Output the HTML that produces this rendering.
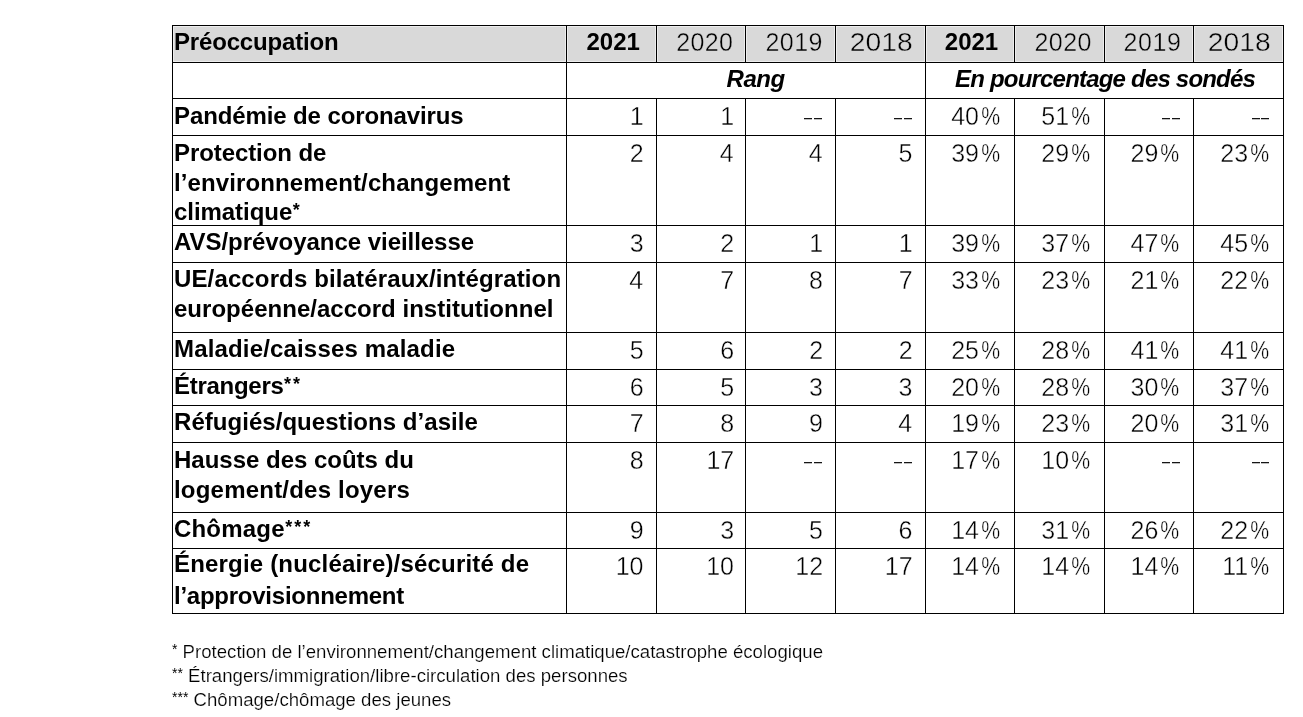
<!DOCTYPE html><html><head><meta charset="utf-8"><style>
html,body{margin:0;padding:0;background:#fff;width:1303px;height:717px;overflow:hidden;}
body{position:relative;font-family:"Liberation Sans",sans-serif;color:#000;filter:grayscale(1);}
.a{position:absolute;white-space:pre;}
.b{font-weight:bold;}
.r{color:#000;-webkit-text-stroke:0.4px #fff;}
.g .r, .r.g{-webkit-text-stroke-color:#d9d9d9;}
.f{color:#000;-webkit-text-stroke:0.2px #fff;}
.f .fs{-webkit-text-stroke:0;}
.l{position:absolute;background:#000;}
.d{position:absolute;height:1px;width:8px;background:#151515;box-shadow:0 1px 0 rgba(0,0,0,0.25);}
.s{font-size:18px;position:relative;top:-4.4px;letter-spacing:2.0px}
.fs{font-size:14px;position:relative;top:-4px;}
</style></head><body>
<div class="a" style="left:173px;top:26px;width:393px;height:36px;background:#ededed"></div>
<div class="a" style="left:174px;top:27px;width:391px;height:34px;background:#d9d9d9"></div>
<div class="a" style="left:567px;top:26px;width:89px;height:36px;background:#ededed"></div>
<div class="a" style="left:568px;top:27px;width:87px;height:34px;background:#d9d9d9"></div>
<div class="a" style="left:657px;top:26px;width:88px;height:36px;background:#ededed"></div>
<div class="a" style="left:658px;top:27px;width:86px;height:34px;background:#d9d9d9"></div>
<div class="a" style="left:746px;top:26px;width:89px;height:36px;background:#ededed"></div>
<div class="a" style="left:747px;top:27px;width:87px;height:34px;background:#d9d9d9"></div>
<div class="a" style="left:836px;top:26px;width:89px;height:36px;background:#ededed"></div>
<div class="a" style="left:837px;top:27px;width:87px;height:34px;background:#d9d9d9"></div>
<div class="a" style="left:926px;top:26px;width:88px;height:36px;background:#ededed"></div>
<div class="a" style="left:927px;top:27px;width:86px;height:34px;background:#d9d9d9"></div>
<div class="a" style="left:1015px;top:26px;width:89px;height:36px;background:#ededed"></div>
<div class="a" style="left:1016px;top:27px;width:87px;height:34px;background:#d9d9d9"></div>
<div class="a" style="left:1105px;top:26px;width:88px;height:36px;background:#ededed"></div>
<div class="a" style="left:1106px;top:27px;width:86px;height:34px;background:#d9d9d9"></div>
<div class="a" style="left:1194px;top:26px;width:89px;height:36px;background:#ededed"></div>
<div class="a" style="left:1195px;top:27px;width:87px;height:34px;background:#d9d9d9"></div>
<div class="l" style="left:172px;top:25px;width:1112px;height:1px"></div>
<div class="l" style="left:172px;top:62px;width:1112px;height:1px"></div>
<div class="l" style="left:172px;top:98px;width:1112px;height:1px"></div>
<div class="l" style="left:172px;top:135px;width:1112px;height:1px"></div>
<div class="l" style="left:172px;top:225px;width:1112px;height:1px"></div>
<div class="l" style="left:172px;top:262px;width:1112px;height:1px"></div>
<div class="l" style="left:172px;top:332px;width:1112px;height:1px"></div>
<div class="l" style="left:172px;top:369px;width:1112px;height:1px"></div>
<div class="l" style="left:172px;top:405px;width:1112px;height:1px"></div>
<div class="l" style="left:172px;top:442px;width:1112px;height:1px"></div>
<div class="l" style="left:172px;top:512px;width:1112px;height:1px"></div>
<div class="l" style="left:172px;top:548px;width:1112px;height:1px"></div>
<div class="l" style="left:172px;top:613px;width:1112px;height:1px"></div>
<div class="l" style="left:172px;top:25px;width:1px;height:589px"></div>
<div class="l" style="left:566px;top:25px;width:1px;height:589px"></div>
<div class="l" style="left:656px;top:25px;width:1px;height:37px"></div>
<div class="l" style="left:656px;top:98px;width:1px;height:516px"></div>
<div class="l" style="left:745px;top:25px;width:1px;height:37px"></div>
<div class="l" style="left:745px;top:98px;width:1px;height:516px"></div>
<div class="l" style="left:835px;top:25px;width:1px;height:37px"></div>
<div class="l" style="left:835px;top:98px;width:1px;height:516px"></div>
<div class="l" style="left:925px;top:25px;width:1px;height:589px"></div>
<div class="l" style="left:1014px;top:25px;width:1px;height:37px"></div>
<div class="l" style="left:1014px;top:98px;width:1px;height:516px"></div>
<div class="l" style="left:1104px;top:25px;width:1px;height:37px"></div>
<div class="l" style="left:1104px;top:98px;width:1px;height:516px"></div>
<div class="l" style="left:1193px;top:25px;width:1px;height:37px"></div>
<div class="l" style="left:1193px;top:98px;width:1px;height:516px"></div>
<div class="l" style="left:1283px;top:25px;width:1px;height:589px"></div>
<div  class="a b" style="left:174.00px;top:26.50px;font-size:24px;line-height:29.95px;letter-spacing:-0.176px;">Préoccupation</div>
<div  class="a b" style="right:663.13px;top:27.00px;font-size:24px;line-height:29.95px;">2021</div>
<div  class="a r g" style="right:569.87px;top:28.06px;font-size:25px;line-height:29.95px;letter-spacing:0.350px;">2020</div>
<div  class="a r g" style="right:480.07px;top:28.06px;font-size:25px;line-height:29.95px;letter-spacing:0.450px;">2019</div>
<div  class="a r g" style="right:390.27px;top:28.06px;font-size:25px;line-height:29.95px;transform:scaleX(1.1300);transform-origin:100% 50%;">2018</div>
<div  class="a b" style="right:304.83px;top:27.00px;font-size:24px;line-height:29.95px;">2021</div>
<div  class="a r g" style="right:211.07px;top:28.06px;font-size:25px;line-height:29.95px;letter-spacing:0.450px;">2020</div>
<div  class="a r g" style="right:121.52px;top:28.06px;font-size:25px;line-height:29.95px;letter-spacing:0.600px;">2019</div>
<div  class="a r g" style="right:32.67px;top:28.06px;font-size:25px;line-height:29.95px;transform:scaleX(1.1300);transform-origin:100% 50%;">2018</div>
<div  class="a b" style="left:726.60px;top:64.20px;font-size:24px;line-height:29.95px;font-style:italic;letter-spacing:-0.5px;">Rang</div>
<div  class="a b" style="left:955.00px;top:64.10px;font-size:24px;line-height:29.95px;font-style:italic;letter-spacing:-0.8px;">En pourcentage des sondés</div>
<div  class="a b" style="left:174.00px;top:100.50px;font-size:24px;line-height:29.95px;letter-spacing:-0.109px;">Pandémie de coronavirus</div>
<div  class="a r" style="right:659.28px;top:101.96px;font-size:25px;line-height:29.95px;">1</div>
<div  class="a r" style="right:568.78px;top:101.96px;font-size:25px;line-height:29.95px;">1</div>
<div class="d" style="left:813.5px;top:118px"></div>
<div class="d" style="left:803.7px;top:118px"></div>
<div class="d" style="left:903.6px;top:118px"></div>
<div class="d" style="left:893.8px;top:118px"></div>
<div  class="a r" style="right:303.04px;top:101.96px;font-size:25px;line-height:29.95px;">40<span style="display:inline-block;margin-left:-1.30px;transform:scaleX(0.850);transform-origin:100% 50%">%</span></div>
<div  class="a r" style="right:212.94px;top:101.96px;font-size:25px;line-height:29.95px;">51<span style="display:inline-block;margin-left:-1.30px;transform:scaleX(0.850);transform-origin:100% 50%">%</span></div>
<div class="d" style="left:1171.6px;top:118px"></div>
<div class="d" style="left:1161.8px;top:118px"></div>
<div class="d" style="left:1261.4px;top:118px"></div>
<div class="d" style="left:1251.6px;top:118px"></div>
<div  class="a b" style="left:174.00px;top:137.50px;font-size:24px;line-height:29.95px;letter-spacing:-0.085px;">Protection de</div>
<div  class="a b" style="left:174.00px;top:167.95px;font-size:24px;line-height:29.95px;letter-spacing:0.117px;">l’environnement/changement</div>
<div  class="a b" style="left:174.00px;top:197.40px;font-size:24px;line-height:29.95px;"><span style="letter-spacing:-0.052px">climatique</span><span class="s" style="margin-left:0.50px">*</span></div>
<div  class="a r" style="right:659.24px;top:138.96px;font-size:25px;line-height:29.95px;">2</div>
<div  class="a r" style="right:569.27px;top:138.96px;font-size:25px;line-height:29.95px;">4</div>
<div  class="a r" style="right:480.47px;top:138.96px;font-size:25px;line-height:29.95px;">4</div>
<div  class="a r" style="right:390.65px;top:138.96px;font-size:25px;line-height:29.95px;">5</div>
<div  class="a r" style="right:303.04px;top:138.96px;font-size:25px;line-height:29.95px;">39<span style="display:inline-block;margin-left:-1.30px;transform:scaleX(0.850);transform-origin:100% 50%">%</span></div>
<div  class="a r" style="right:212.94px;top:138.96px;font-size:25px;line-height:29.95px;">29<span style="display:inline-block;margin-left:-1.30px;transform:scaleX(0.850);transform-origin:100% 50%">%</span></div>
<div  class="a r" style="right:123.74px;top:138.96px;font-size:25px;line-height:29.95px;">29<span style="display:inline-block;margin-left:-1.30px;transform:scaleX(0.850);transform-origin:100% 50%">%</span></div>
<div  class="a r" style="right:33.94px;top:138.96px;font-size:25px;line-height:29.95px;">23<span style="display:inline-block;margin-left:-1.30px;transform:scaleX(0.850);transform-origin:100% 50%">%</span></div>
<div  class="a b" style="left:174.00px;top:227.40px;font-size:24px;line-height:29.95px;letter-spacing:-0.041px;">AVS/prévoyance vieillesse</div>
<div  class="a r" style="right:659.40px;top:228.96px;font-size:25px;line-height:29.95px;">3</div>
<div  class="a r" style="right:568.74px;top:228.96px;font-size:25px;line-height:29.95px;">2</div>
<div  class="a r" style="right:479.98px;top:228.96px;font-size:25px;line-height:29.95px;">1</div>
<div  class="a r" style="right:390.48px;top:228.96px;font-size:25px;line-height:29.95px;">1</div>
<div  class="a r" style="right:303.04px;top:228.96px;font-size:25px;line-height:29.95px;">39<span style="display:inline-block;margin-left:-1.30px;transform:scaleX(0.850);transform-origin:100% 50%">%</span></div>
<div  class="a r" style="right:212.94px;top:228.96px;font-size:25px;line-height:29.95px;">37<span style="display:inline-block;margin-left:-1.30px;transform:scaleX(0.850);transform-origin:100% 50%">%</span></div>
<div  class="a r" style="right:123.74px;top:228.96px;font-size:25px;line-height:29.95px;">47<span style="display:inline-block;margin-left:-1.30px;transform:scaleX(0.850);transform-origin:100% 50%">%</span></div>
<div  class="a r" style="right:33.94px;top:228.96px;font-size:25px;line-height:29.95px;">45<span style="display:inline-block;margin-left:-1.30px;transform:scaleX(0.850);transform-origin:100% 50%">%</span></div>
<div  class="a b" style="left:174.00px;top:264.20px;font-size:24px;line-height:29.95px;letter-spacing:0.134px;">UE/accords bilatéraux/intégration</div>
<div  class="a b" style="left:174.00px;top:294.15px;font-size:24px;line-height:29.95px;letter-spacing:0.023px;">européenne/accord institutionnel</div>
<div  class="a r" style="right:659.77px;top:265.96px;font-size:25px;line-height:29.95px;">4</div>
<div  class="a r" style="right:568.74px;top:265.96px;font-size:25px;line-height:29.95px;">7</div>
<div  class="a r" style="right:480.11px;top:265.96px;font-size:25px;line-height:29.95px;">8</div>
<div  class="a r" style="right:390.44px;top:265.96px;font-size:25px;line-height:29.95px;">7</div>
<div  class="a r" style="right:303.04px;top:265.96px;font-size:25px;line-height:29.95px;">33<span style="display:inline-block;margin-left:-1.30px;transform:scaleX(0.850);transform-origin:100% 50%">%</span></div>
<div  class="a r" style="right:212.94px;top:265.96px;font-size:25px;line-height:29.95px;">23<span style="display:inline-block;margin-left:-1.30px;transform:scaleX(0.850);transform-origin:100% 50%">%</span></div>
<div  class="a r" style="right:123.74px;top:265.96px;font-size:25px;line-height:29.95px;">21<span style="display:inline-block;margin-left:-1.30px;transform:scaleX(0.850);transform-origin:100% 50%">%</span></div>
<div  class="a r" style="right:33.94px;top:265.96px;font-size:25px;line-height:29.95px;">22<span style="display:inline-block;margin-left:-1.30px;transform:scaleX(0.850);transform-origin:100% 50%">%</span></div>
<div  class="a b" style="left:174.00px;top:334.40px;font-size:24px;line-height:29.95px;letter-spacing:0.164px;">Maladie/caisses maladie</div>
<div  class="a r" style="right:659.45px;top:335.96px;font-size:25px;line-height:29.95px;">5</div>
<div  class="a r" style="right:568.90px;top:335.96px;font-size:25px;line-height:29.95px;">6</div>
<div  class="a r" style="right:479.94px;top:335.96px;font-size:25px;line-height:29.95px;">2</div>
<div  class="a r" style="right:390.44px;top:335.96px;font-size:25px;line-height:29.95px;">2</div>
<div  class="a r" style="right:303.04px;top:335.96px;font-size:25px;line-height:29.95px;">25<span style="display:inline-block;margin-left:-1.30px;transform:scaleX(0.850);transform-origin:100% 50%">%</span></div>
<div  class="a r" style="right:212.94px;top:335.96px;font-size:25px;line-height:29.95px;">28<span style="display:inline-block;margin-left:-1.30px;transform:scaleX(0.850);transform-origin:100% 50%">%</span></div>
<div  class="a r" style="right:123.74px;top:335.96px;font-size:25px;line-height:29.95px;">41<span style="display:inline-block;margin-left:-1.30px;transform:scaleX(0.850);transform-origin:100% 50%">%</span></div>
<div  class="a r" style="right:33.94px;top:335.96px;font-size:25px;line-height:29.95px;">41<span style="display:inline-block;margin-left:-1.30px;transform:scaleX(0.850);transform-origin:100% 50%">%</span></div>
<div  class="a b" style="left:174.00px;top:371.20px;font-size:24px;line-height:29.95px;"><span style="letter-spacing:-0.280px">Étrangers</span><span class="s" style="margin-left:0.50px">**</span></div>
<div  class="a r" style="right:659.40px;top:372.96px;font-size:25px;line-height:29.95px;">6</div>
<div  class="a r" style="right:568.95px;top:372.96px;font-size:25px;line-height:29.95px;">5</div>
<div  class="a r" style="right:480.10px;top:372.96px;font-size:25px;line-height:29.95px;">3</div>
<div  class="a r" style="right:390.60px;top:372.96px;font-size:25px;line-height:29.95px;">3</div>
<div  class="a r" style="right:303.04px;top:372.96px;font-size:25px;line-height:29.95px;">20<span style="display:inline-block;margin-left:-1.30px;transform:scaleX(0.850);transform-origin:100% 50%">%</span></div>
<div  class="a r" style="right:212.94px;top:372.96px;font-size:25px;line-height:29.95px;">28<span style="display:inline-block;margin-left:-1.30px;transform:scaleX(0.850);transform-origin:100% 50%">%</span></div>
<div  class="a r" style="right:123.74px;top:372.96px;font-size:25px;line-height:29.95px;">30<span style="display:inline-block;margin-left:-1.30px;transform:scaleX(0.850);transform-origin:100% 50%">%</span></div>
<div  class="a r" style="right:33.94px;top:372.96px;font-size:25px;line-height:29.95px;">37<span style="display:inline-block;margin-left:-1.30px;transform:scaleX(0.850);transform-origin:100% 50%">%</span></div>
<div  class="a b" style="left:174.00px;top:407.30px;font-size:24px;line-height:29.95px;letter-spacing:0.043px;">Réfugiés/questions d’asile</div>
<div  class="a r" style="right:659.24px;top:408.96px;font-size:25px;line-height:29.95px;">7</div>
<div  class="a r" style="right:568.91px;top:408.96px;font-size:25px;line-height:29.95px;">8</div>
<div  class="a r" style="right:480.02px;top:408.96px;font-size:25px;line-height:29.95px;">9</div>
<div  class="a r" style="right:390.97px;top:408.96px;font-size:25px;line-height:29.95px;">4</div>
<div  class="a r" style="right:303.04px;top:408.96px;font-size:25px;line-height:29.95px;">19<span style="display:inline-block;margin-left:-1.30px;transform:scaleX(0.850);transform-origin:100% 50%">%</span></div>
<div  class="a r" style="right:212.94px;top:408.96px;font-size:25px;line-height:29.95px;">23<span style="display:inline-block;margin-left:-1.30px;transform:scaleX(0.850);transform-origin:100% 50%">%</span></div>
<div  class="a r" style="right:123.74px;top:408.96px;font-size:25px;line-height:29.95px;">20<span style="display:inline-block;margin-left:-1.30px;transform:scaleX(0.850);transform-origin:100% 50%">%</span></div>
<div  class="a r" style="right:33.94px;top:408.96px;font-size:25px;line-height:29.95px;">31<span style="display:inline-block;margin-left:-1.30px;transform:scaleX(0.850);transform-origin:100% 50%">%</span></div>
<div  class="a b" style="left:174.00px;top:444.60px;font-size:24px;line-height:29.95px;letter-spacing:-0.010px;">Hausse des coûts du</div>
<div  class="a b" style="left:174.00px;top:474.55px;font-size:24px;line-height:29.95px;letter-spacing:0.207px;">logement/des loyers</div>
<div  class="a r" style="right:659.41px;top:445.96px;font-size:25px;line-height:29.95px;">8</div>
<div  class="a r" style="right:568.74px;top:445.96px;font-size:25px;line-height:29.95px;">17</div>
<div class="d" style="left:813.5px;top:462px"></div>
<div class="d" style="left:803.7px;top:462px"></div>
<div class="d" style="left:903.6px;top:462px"></div>
<div class="d" style="left:893.8px;top:462px"></div>
<div  class="a r" style="right:303.04px;top:445.96px;font-size:25px;line-height:29.95px;">17<span style="display:inline-block;margin-left:-1.30px;transform:scaleX(0.850);transform-origin:100% 50%">%</span></div>
<div  class="a r" style="right:212.94px;top:445.96px;font-size:25px;line-height:29.95px;">10<span style="display:inline-block;margin-left:-1.30px;transform:scaleX(0.850);transform-origin:100% 50%">%</span></div>
<div class="d" style="left:1171.6px;top:462px"></div>
<div class="d" style="left:1161.8px;top:462px"></div>
<div class="d" style="left:1261.4px;top:462px"></div>
<div class="d" style="left:1251.6px;top:462px"></div>
<div  class="a b" style="left:174.00px;top:514.30px;font-size:24px;line-height:29.95px;"><span style="letter-spacing:0.189px">Chômage</span><span class="s" style="margin-left:0.50px">***</span></div>
<div  class="a r" style="right:659.32px;top:515.96px;font-size:25px;line-height:29.95px;">9</div>
<div  class="a r" style="right:568.90px;top:515.96px;font-size:25px;line-height:29.95px;">3</div>
<div  class="a r" style="right:480.15px;top:515.96px;font-size:25px;line-height:29.95px;">5</div>
<div  class="a r" style="right:390.60px;top:515.96px;font-size:25px;line-height:29.95px;">6</div>
<div  class="a r" style="right:303.04px;top:515.96px;font-size:25px;line-height:29.95px;">14<span style="display:inline-block;margin-left:-1.30px;transform:scaleX(0.850);transform-origin:100% 50%">%</span></div>
<div  class="a r" style="right:212.94px;top:515.96px;font-size:25px;line-height:29.95px;">31<span style="display:inline-block;margin-left:-1.30px;transform:scaleX(0.850);transform-origin:100% 50%">%</span></div>
<div  class="a r" style="right:123.74px;top:515.96px;font-size:25px;line-height:29.95px;">26<span style="display:inline-block;margin-left:-1.30px;transform:scaleX(0.850);transform-origin:100% 50%">%</span></div>
<div  class="a r" style="right:33.94px;top:515.96px;font-size:25px;line-height:29.95px;">22<span style="display:inline-block;margin-left:-1.30px;transform:scaleX(0.850);transform-origin:100% 50%">%</span></div>
<div  class="a b" style="left:174.00px;top:549.40px;font-size:24px;line-height:29.95px;letter-spacing:0.185px;">Énergie (nucléaire)/sécurité de</div>
<div  class="a b" style="left:174.00px;top:580.85px;font-size:24px;line-height:29.95px;letter-spacing:-0.248px;">l’approvisionnement</div>
<div  class="a r" style="right:659.52px;top:551.96px;font-size:25px;line-height:29.95px;">10</div>
<div  class="a r" style="right:569.02px;top:551.96px;font-size:25px;line-height:29.95px;">10</div>
<div  class="a r" style="right:479.94px;top:551.96px;font-size:25px;line-height:29.95px;">12</div>
<div  class="a r" style="right:390.44px;top:551.96px;font-size:25px;line-height:29.95px;">17</div>
<div  class="a r" style="right:303.04px;top:551.96px;font-size:25px;line-height:29.95px;">14<span style="display:inline-block;margin-left:-1.30px;transform:scaleX(0.850);transform-origin:100% 50%">%</span></div>
<div  class="a r" style="right:212.94px;top:551.96px;font-size:25px;line-height:29.95px;">14<span style="display:inline-block;margin-left:-1.30px;transform:scaleX(0.850);transform-origin:100% 50%">%</span></div>
<div  class="a r" style="right:123.74px;top:551.96px;font-size:25px;line-height:29.95px;">14<span style="display:inline-block;margin-left:-1.30px;transform:scaleX(0.850);transform-origin:100% 50%">%</span></div>
<div  class="a r" style="right:33.94px;top:551.96px;font-size:25px;line-height:29.95px;">11<span style="display:inline-block;margin-left:-1.30px;transform:scaleX(0.850);transform-origin:100% 50%">%</span></div>
<div  class="a f" style="left:172.00px;top:637.07px;font-size:18.63px;line-height:29.95px;"><span class="fs">*</span> Protection de l’environnement/changement climatique/catastrophe écologique</div>
<div  class="a f" style="left:172.00px;top:661.17px;font-size:18.63px;line-height:29.95px;"><span class="fs">**</span> Étrangers/immigration/libre-circulation des personnes</div>
<div  class="a f" style="left:172.00px;top:685.07px;font-size:18.63px;line-height:29.95px;"><span class="fs">***</span> Chômage/chômage des jeunes</div>
</body></html>
